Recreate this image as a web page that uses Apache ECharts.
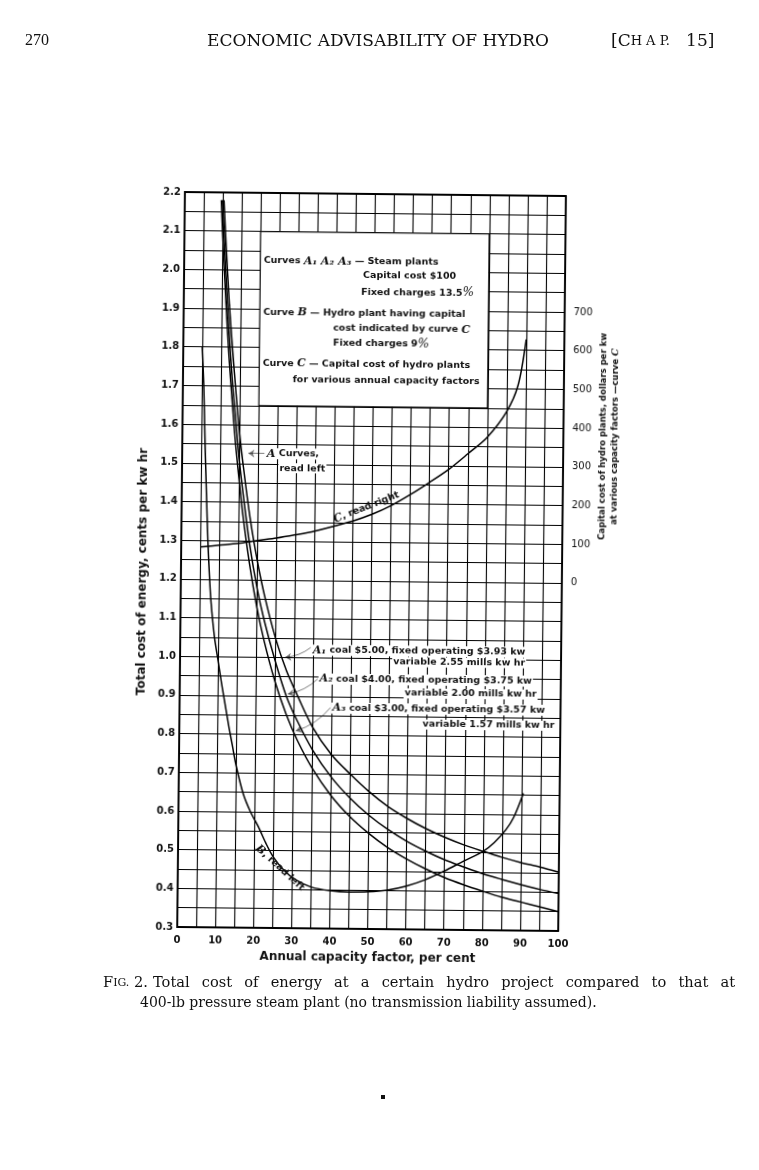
<!DOCTYPE html>
<html><head><meta charset="utf-8">
<script src="https://cdn.jsdelivr.net/npm/echarts@6/dist/echarts.min.js"></script>
<style>
html,body{margin:0;padding:0;background:#fff;}
#page{position:absolute;left:0;top:0;width:759px;height:1170px;}
#chart{position:absolute;left:0;top:0;width:759px;height:1170px;transform:rotate(0.6deg);transform-origin:371.5px 562px;}
</style></head>
<body><div id="page"></div><div id="chart"></div>
<script>
// ---------------- DATA ----------------
const xTickLabels = ['0','10','20','30','40','50','60','70','80','90','100'];
const leftTickLabels = ['0.3','0.4','0.5','0.6','0.7','0.8','0.9','1.0','1.1','1.2','1.3','1.4','1.5','1.6','1.7','1.8','1.9','2.0','2.1','2.2'];
const rightTickLabels = ['0','100','200','300','400','500','600','700'];

// Curve A1 (steam, coal $5.00)
const a1X = [10.3, 11, 12, 13, 14, 15, 16, 18, 20, 22, 25, 28, 31, 35, 40, 45, 50, 55, 60, 65, 70, 75, 80, 85, 90, 95, 100];
const a1Y = [2.18, 2.06, 1.91, 1.79, 1.68, 1.58, 1.50, 1.36, 1.25, 1.16, 1.05, 0.965, 0.90, 0.82, 0.75, 0.70, 0.655, 0.617, 0.587, 0.561, 0.539, 0.520, 0.504, 0.489, 0.476, 0.465, 0.452];
// Curve A2 (steam, coal $4.00)
const a2X = [9.9, 11, 12, 13, 14, 15, 16, 18, 20, 22, 25, 28, 31, 35, 40, 45, 50, 55, 60, 65, 70, 75, 80, 85, 90, 95, 100];
const a2Y = [2.18, 1.99, 1.84, 1.71, 1.61, 1.51, 1.43, 1.29, 1.18, 1.095, 0.99, 0.90, 0.835, 0.762, 0.692, 0.638, 0.594, 0.558, 0.528, 0.503, 0.481, 0.463, 0.446, 0.432, 0.419, 0.407, 0.397];
// Curve A3 (steam, coal $3.00)
const a3X = [9.6, 10, 11, 12, 13, 14, 15, 16, 18, 20, 22, 25, 28, 31, 35, 40, 45, 50, 55, 60, 65, 70, 75, 80, 85, 90, 95, 100];
const a3Y = [2.18, 2.10, 1.93, 1.78, 1.66, 1.55, 1.46, 1.375, 1.24, 1.13, 1.043, 0.937, 0.853, 0.786, 0.714, 0.644, 0.590, 0.547, 0.511, 0.482, 0.457, 0.435, 0.417, 0.401, 0.386, 0.374, 0.362, 0.350];
// Curve B (hydro, read left)
const bX = [5, 5.5, 6, 6.5, 7, 7.5, 8, 9, 10, 11, 12, 13, 14, 15, 17, 19, 21, 23, 25, 28, 31, 35, 40, 45, 50, 55, 60, 65, 70, 75, 80, 83, 86, 88, 90.5];
const bY = [1.80, 1.70, 1.55, 1.42, 1.30, 1.21, 1.14, 1.05, 0.99, 0.93, 0.875, 0.82, 0.77, 0.72, 0.645, 0.598, 0.562, 0.52, 0.484, 0.448, 0.425, 0.407, 0.398, 0.395, 0.396, 0.401, 0.412, 0.429, 0.452, 0.478, 0.503, 0.527, 0.560, 0.592, 0.655];
// Curve C (capital cost of hydro plant, dollars per kw, read right)
const cX = [5, 10, 15, 20, 25, 30, 35, 40, 45, 50, 55, 60, 65, 70, 75, 80, 85, 88, 90];
const cY = [83, 88, 93, 101, 108, 117, 127, 140, 154, 172, 195, 224, 256, 290, 331, 374, 440, 510, 628];

// ---------------- helpers ----------------
const zip = (xs, ys) => xs.map((x, i) => [x, ys[i]]);
const FONT = 'DejaVu Sans';
const INK = '#000';
const lineStyle = {color: INK, width: 1.5};

const page = echarts.init(document.getElementById('page'));
const chart = echarts.init(document.getElementById('chart'));

// ---------------- page text (not part of the figure) ----------------
const SERIF = '"DejaVu Serif"';
const CAP_FONT = '14px ' + SERIF;
const CAP_FONT1 = '14.6px ' + SERIF;
const capLine1 = 'Total cost of energy at a certain hydro project compared to that at';
const capLine2 = '400-lb pressure steam plant (no transmission liability assumed).';
const ctx = document.createElement('canvas').getContext('2d');
ctx.font = CAP_FONT1;
const words1 = capLine1.split(' ');
const w1 = words1.map(w => ctx.measureText(w).width);
const gap1 = (735 - 153 - w1.reduce((a, b) => a + b, 0)) / (words1.length - 1);
const pageGraphics = [
  {type: 'text', left: 25, top: 33, style: {text: '270', font: '16px "Liberation Serif"', fill: '#111'}},
  {type: 'text', x: 378, y: 42, style: {text: 'ECONOMIC ADVISABILITY OF HYDRO', font: '17px ' + SERIF, fill: '#111', align: 'center', verticalAlign: 'middle'}},
  {type: 'text', x: 611, y: 42, style: {text: '[C{s|H A P.}   15]', font: '17px ' + SERIF, fill: '#111', verticalAlign: 'middle', rich: {s: {font: '13px ' + SERIF, fill: '#111'}}}},
  {type: 'text', x: 103, y: 983, style: {text: 'F{s|IG.} 2.', font: CAP_FONT1, fill: '#111', verticalAlign: 'middle', rich: {s: {font: '11px ' + SERIF, fill: '#111'}}}},
  {type: 'text', x: 140, y: 1003, style: {text: capLine2, font: CAP_FONT, fill: '#111', verticalAlign: 'middle'}},
  {type: 'rect', shape: {x: 381, y: 1095, width: 4, height: 4}, style: {fill: '#111'}}
];
let cx = 153;
words1.forEach((w, i) => {
  pageGraphics.push({type: 'text', x: cx, y: 983, style: {text: w, font: CAP_FONT1, fill: '#111', verticalAlign: 'middle'}});
  cx += w1[i] + gap1;
});
page.setOption({backgroundColor: '#fff', graphic: pageGraphics});

// ---------------- chart ----------------
const labelStyle = {fontFamily: FONT, fontWeight: 'bold', fontSize: 10, color: '#111'};
chart.setOption({
  animation: false,
  grid: {left: 181, top: 194, width: 381, height: 735, show: true, borderColor: INK, borderWidth: 1.8, backgroundColor: 'transparent'},
  xAxis: {
    type: 'value', min: 0, max: 100, interval: 5,
    axisLine: {show: false}, axisTick: {show: false},
    splitLine: {show: true, lineStyle: {color: INK, width: 1.1}},
    axisLabel: Object.assign({margin: 8, formatter: v => xTickLabels.includes(String(v)) ? String(v) : ''}, labelStyle),
    name: 'Annual capacity factor, per cent', nameLocation: 'middle', nameGap: 22,
    nameTextStyle: {fontFamily: FONT, fontWeight: 'bold', fontSize: 12, color: '#111'}
  },
  yAxis: [
    {
      type: 'value', min: 0.3, max: 2.2, interval: 0.05,
      axisLine: {show: false}, axisTick: {show: false},
      splitLine: {show: true, lineStyle: {color: INK, width: 1.1}},
      axisLabel: Object.assign({margin: 4, formatter: v => {const s = (Math.round(v * 100) / 100).toFixed(2); return s.endsWith('0') && leftTickLabels.includes(s.slice(0, -1)) ? s.slice(0, -1) : '';}}, labelStyle)
    },
    {
      type: 'value', min: -900, max: 1000, interval: 100, position: 'right',
      axisLine: {show: false}, axisTick: {show: false}, splitLine: {show: false},
      axisLabel: Object.assign({margin: 9, formatter: v => rightTickLabels.includes(String(v)) ? String(v) : ''}, labelStyle, {fontWeight: 'normal'})
    }
  ],
  series: [
    {name: 'A1', type: 'line', data: zip(a1X, a1Y), showSymbol: false, smooth: 0.3, lineStyle, z: 5,
      markArea: {silent: true, itemStyle: {color: '#fff', borderColor: INK, borderWidth: 1.1, opacity: 1}, label: {show: false},
        data: [[{xAxis: 20, yAxis: 1.65}, {xAxis: 80, yAxis: 2.1}]]}},
    {name: 'A2', type: 'line', data: zip(a2X, a2Y), showSymbol: false, smooth: 0.3, lineStyle, z: 5},
    {name: 'A3', type: 'line', data: zip(a3X, a3Y), showSymbol: false, smooth: 0.3, lineStyle, z: 5},
    {name: 'B', type: 'line', data: zip(bX, bY), showSymbol: false, smooth: 0.3, lineStyle, z: 5},
    {name: 'C', type: 'line', yAxisIndex: 1, data: zip(cX, cY), showSymbol: false, smooth: 0.3, lineStyle, z: 5},
    {name: 'arrows', type: 'lines', coordinateSystem: 'cartesian2d', xAxisIndex: 0, yAxisIndex: 0, z: 6,
      symbol: ['none', 'arrow'], symbolSize: 6, lineStyle: {color: INK, width: 1, curveness: 0.15},
      data: [
        {coords: [[34.3, 1.026], [27.6, 1.0]]},
        {coords: [[36.2, 0.945], [28.4, 0.905]]},
        {coords: [[39.6, 0.871], [30.6, 0.81]]},
        {coords: [[21.6, 1.526], [17.4, 1.526]], lineStyle: {curveness: 0}}
      ]}
  ]
});

// ---------------- annotations (anchored in data coordinates) ----------------
const P = (x, y) => chart.convertToPixel({xAxisIndex: 0, yAxisIndex: 0}, [x, y]);
const rich = {
  it: {fontFamily: 'DejaVu Serif', fontStyle: 'italic', fontWeight: 'bold', fontSize: 11, fill: '#111'},
  pc: {fontFamily: 'DejaVu Serif', fontStyle: 'italic', fontSize: 12, fill: '#111'}
};
const notes = [
  {t: 'Curves {it|A₁ A₂ A₃} — Steam plants', x: 20.9, y: 2.025},
  {t: 'Capital cost $100', x: 47, y: 1.988},
  {t: 'Fixed charges 13.5{pc|%}', x: 46.5, y: 1.946},
  {t: 'Curve {it|B} — Hydro plant having capital', x: 20.9, y: 1.891},
  {t: 'cost indicated by curve {it|C}', x: 39.3, y: 1.851},
  {t: 'Fixed charges 9{pc|%}', x: 39.3, y: 1.813},
  {t: 'Curve {it|C} — Capital cost of hydro plants', x: 20.9, y: 1.759},
  {t: 'for various annual capacity factors', x: 28.8, y: 1.717},
  {t: '{it|A} Curves,', x: 22.0, y: 1.526, bg: true},
  {t: 'read left', x: 25.3, y: 1.489, bg: true},
  {t: '{it|A₁} coal $5.00, fixed operating $3.93 kw', x: 34.6, y: 1.019, bg: true},
  {t: 'variable 2.55 mills kw hr', x: 55.7, y: 0.991, bg: true},
  {t: '{it|A₂} coal $4.00, fixed operating $3.75 kw', x: 36.4, y: 0.945, bg: true},
  {t: 'variable 2.00 mills kw hr', x: 58.8, y: 0.910, bg: true},
  {t: '{it|A₃} coal $3.00, fixed operating $3.57 kw', x: 39.9, y: 0.870, bg: true},
  {t: 'variable 1.57 mills kw hr', x: 63.6, y: 0.830, bg: true}
];
const NOTE_FONT = 'bold 9.5px "DejaVu Sans"';
const graphics = notes.map(n => {
  const p = P(n.x, n.y);
  return {type: 'text', x: p[0], y: p[1], z: 100,
    style: {text: n.t, rich, font: NOTE_FONT, fill: '#111', align: 'left', verticalAlign: 'middle',
      backgroundColor: n.bg ? '#fff' : null, padding: n.bg ? [0, 1] : 0}};
});
const pc = P(48.5, 1.39);
graphics.push({type: 'text', x: pc[0], y: pc[1], z: 100, rotation: 22 * Math.PI / 180,
  style: {text: '{it|C}, read right', rich, font: NOTE_FONT, fill: '#111', align: 'center', verticalAlign: 'middle'}});
const pb = P(26.8, 0.455);
graphics.push({type: 'text', x: pb[0], y: pb[1], z: 100, rotation: -42 * Math.PI / 180,
  style: {text: '{it|B}, read left', rich, font: NOTE_FONT, fill: '#111', align: 'center', verticalAlign: 'middle'}});
// axis titles
const yl = P(0, 1.05);
graphics.push({type: 'text', x: yl[0] - 38, y: 574, z: 100, rotation: Math.PI / 2,
  style: {text: 'Total cost of energy, cents per kw hr', font: 'bold 12px "DejaVu Sans"', fill: '#111', align: 'center', verticalAlign: 'middle'}});
const rl = P(100, 1.5);
graphics.push({type: 'text', x: rl[0] + 46, y: 434, z: 100, rotation: Math.PI / 2,
  style: {text: 'Capital cost of hydro plants, dollars per kw\nat various capacity factors —curve {it|C}', rich: {it: {fontFamily: 'DejaVu Serif', fontStyle: 'italic', fontWeight: 'bold', fontSize: 9.5, fill: '#111'}},
    font: 'bold 8.5px "DejaVu Sans"', fill: '#111', align: 'center', verticalAlign: 'middle', lineHeight: 12}});
chart.setOption({graphic: graphics});
</script>
</body></html>
